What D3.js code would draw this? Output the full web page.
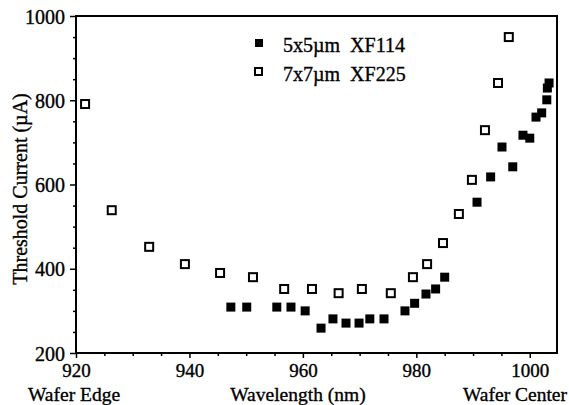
<!DOCTYPE html>
<html>
<head>
<meta charset="utf-8">
<script src="https://cdn.jsdelivr.net/npm/d3@7"></script>
<style>
  body { margin: 0; background: #fff; }
  svg { display: block; font-family: "Liberation Serif", "DejaVu Serif", serif; }
  svg text { fill: #000; stroke: #000; stroke-width: 0.35px; }
</style>
</head>
<body>
<div id="display"></div>
<script>
// 7x7um XF225 (open squares)
var wl_open = [921.6, 926.3, 932.9, 939.2, 945.4, 951.2, 956.7, 961.6, 966.3, 970.4, 975.5, 979.4, 981.9, 984.7, 987.5, 989.8, 992.1, 994.4, 996.3];
var cur_open = [791, 539, 452, 411, 390, 380, 352, 352, 342, 352, 342, 380, 411, 461, 530, 611, 729, 841, 950];

// 5x5um XF114 (filled squares)
var wl_fill = [947.3, 950.1, 955.4, 957.9, 960.4, 963.2, 965.3, 967.6, 969.9, 971.8, 974.3, 978.0, 979.7, 981.7, 983.4, 985.0, 990.7, 993.1, 995.1, 997.0, 998.8, 1000.0, 1001.1, 1002.1, 1003.0, 1003.1, 1003.4];
var cur_fill = [309, 309, 309, 309, 300, 259, 281, 271, 271, 281, 281, 300, 318, 340, 352, 380, 558, 618, 689, 642, 717, 710, 760, 770, 801, 829, 841];

var x_ticks = [920, 940, 960, 980, 1000];
var y_ticks = [200, 400, 600, 800, 1000];
var legend_labels = ["5x5\u00b5m  XF114", "7x7\u00b5m  XF225"];

var W = 569, H = 405;
var svg = d3.select("#display").append("svg").attr("width", W).attr("height", H);

var x = d3.scaleLinear().domain([920, 1004.8]).range([76, 557]);
var y = d3.scaleLinear().domain([200, 1000]).range([353, 16]);

// minor ticks
var xminor = d3.range(920, 1005, 5).filter(function(d){ return x_ticks.indexOf(d) < 0; });
var yminor = d3.range(250, 1000, 50).filter(function(d){ return y_ticks.indexOf(d) < 0; });

var xaxis = d3.axisBottom(x).tickValues(x_ticks).tickSize(5).tickPadding(6).tickFormat(d3.format("d"));
var yaxis = d3.axisLeft(y).tickValues(y_ticks).tickSize(6).tickPadding(5).tickFormat(d3.format("d"));

var gx = svg.append("g").attr("transform", "translate(0,353)").call(xaxis);
var gy = svg.append("g").attr("transform", "translate(76,0)").call(yaxis);
[gx, gy].forEach(function(g){
  g.select(".domain").remove();
  g.selectAll("line").attr("stroke", "#000").attr("stroke-width", 1.5);
  g.selectAll("text").attr("fill", "#000").style("font-size", "20px").style("font-family", "Liberation Serif");
});
gy.selectAll("text").attr("dy", "0.35em");
gx.selectAll("text").style("font-size", "19px");

svg.append("g").attr("transform", "translate(0,353)")
  .call(d3.axisBottom(x).tickValues(xminor).tickSize(3).tickFormat(""))
  .call(function(g){ g.select(".domain").remove(); g.selectAll("line").attr("stroke-width", 1.5); });
svg.append("g").attr("transform", "translate(76,0)")
  .call(d3.axisLeft(y).tickValues(yminor).tickSize(3).tickFormat(""))
  .call(function(g){ g.select(".domain").remove(); g.selectAll("line").attr("stroke-width", 1.5); });

// frame
svg.append("rect")
  .attr("x", x(920)).attr("y", y(1000))
  .attr("width", x(1004.8) - x(920)).attr("height", y(200) - y(1000))
  .attr("fill", "none").attr("stroke", "#000").attr("stroke-width", 2);

// open squares
var s = 8;
svg.selectAll("rect.open").data(d3.range(wl_open.length)).enter().append("rect")
  .attr("class", "open")
  .attr("x", function(i){ return x(wl_open[i]) - s/2; })
  .attr("y", function(i){ return y(cur_open[i]) - s/2; })
  .attr("width", s).attr("height", s)
  .attr("fill", "#fff").attr("stroke", "#000").attr("stroke-width", 2);

// filled squares
var f = 9;
svg.selectAll("rect.fill").data(d3.range(wl_fill.length)).enter().append("rect")
  .attr("class", "fill")
  .attr("x", function(i){ return x(wl_fill[i]) - f/2; })
  .attr("y", function(i){ return y(cur_fill[i]) - f/2; })
  .attr("width", f).attr("height", f)
  .attr("fill", "#000");

// legend
svg.append("rect").attr("x", 255).attr("y", 39).attr("width", 8).attr("height", 8).attr("fill", "#000");
svg.append("rect").attr("x", 255).attr("y", 68).attr("width", 7).attr("height", 7)
  .attr("fill", "#fff").attr("stroke", "#000").attr("stroke-width", 2);
svg.selectAll("text.leg").data(legend_labels).enter().append("text")
  .attr("class", "leg")
  .attr("x", 283).attr("y", function(d, i){ return 52 + i * 29; })
  .style("font-size", "20px").style("white-space", "pre")
  .attr("xml:space", "preserve")
  .text(function(d){ return d; });

// axis titles
var bottom = svg.append("g").style("font-size", "19.5px");
bottom.append("text").attr("x", 298).attr("y", 401).attr("text-anchor", "middle").text("Wavelength (nm)");
bottom.append("text").attr("x", 28).attr("y", 401).text("Wafer Edge");
bottom.append("text").attr("x", 567).attr("y", 401).attr("text-anchor", "end").text("Wafer Center");
svg.append("text")
  .attr("transform", "translate(27,189) rotate(-90)")
  .attr("text-anchor", "middle")
  .style("font-size", "20px").text("Threshold Current (\u00b5A)");
</script>
</body>
</html>
